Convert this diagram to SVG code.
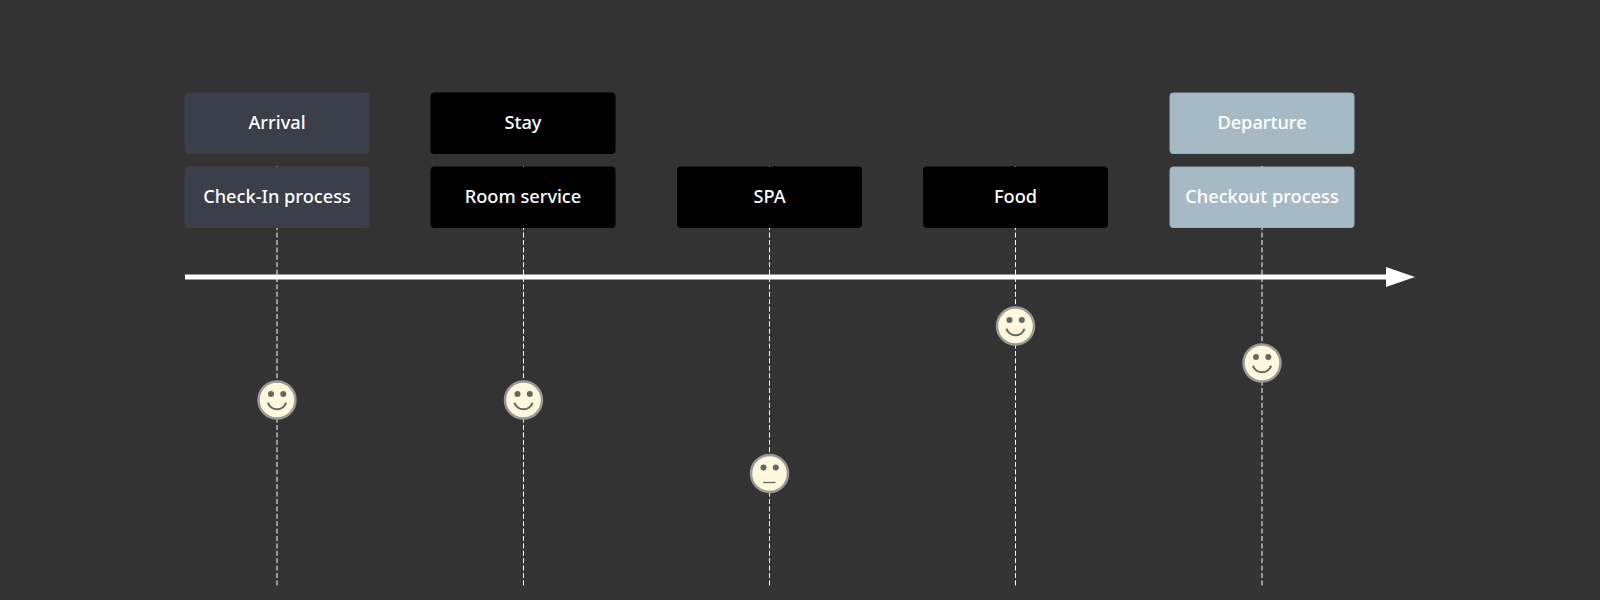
<svg xmlns="http://www.w3.org/2000/svg" width="1600" height="600" viewBox="0 0 1600 600">
<defs>
<marker id="arrow" markerUnits="userSpaceOnUse" markerWidth="30" markerHeight="20" refX="1" refY="10" orient="auto"><path d="M0 0L29 10L0 20Z" fill="#fff"/></marker>
<g id="smile"><circle r="18.5" class="face"/><circle cx="-6" cy="-6" r="3" class="eye"/><circle cx="6.3" cy="-6" r="3" class="eye"/><path d="M-9 2.7A9.4 9.2 0 0 0 9 2.7" class="mouth"/></g>
<g id="neutral"><circle r="18.5" class="face"/><circle cx="-6" cy="-6" r="3" class="eye"/><circle cx="6.3" cy="-6" r="3" class="eye"/><path d="M-6.3 9H6" class="neutral-mouth"/></g>
</defs>
<style>
text{font-family:"Noto Sans","Liberation Sans",sans-serif;font-size:18.2px;font-weight:500;fill:#fff;text-anchor:middle}
.box{stroke-width:1}
.a{fill:#3a3f4a;stroke:#3a3f4a}
.s{fill:#000;stroke:#000}
.d{fill:#a6bac5;stroke:#9cafba}
.v{stroke:#fff;stroke-width:1;stroke-dasharray:5 2.4;fill:none}
.face{fill:#fff8dc;stroke:#999;stroke-width:2.5}
.eye{fill:#666}
.mouth{fill:none;stroke:#666;stroke-width:2.2}
.neutral-mouth{fill:none;stroke:#666;stroke-width:1.3}
</style>
<rect width="1600" height="600" fill="#333"/>
<g id="connectors">
<line class="v" x1="277" y1="166" x2="277" y2="586"/>
<line class="v" x1="523.5" y1="166" x2="523.5" y2="586"/>
<line class="v" x1="769.5" y1="166" x2="769.5" y2="586"/>
<line class="v" x1="1015.5" y1="166" x2="1015.5" y2="586"/>
<line class="v" x1="1262" y1="166" x2="1262" y2="586"/>
<line x1="185" y1="277" x2="1387" y2="277" stroke="#fff" stroke-width="5" marker-end="url(#arrow)"/>
</g>
<g id="section-arrival"><rect class="box a" x="185" y="93" width="184" height="60.5" rx="3"/><text x="277" y="128.5">Arrival</text></g>
<g id="section-stay"><rect class="box s" x="431" y="93" width="184" height="60.5" rx="3"/><text x="523" y="128.5">Stay</text></g>
<g id="section-departure"><rect class="box d" x="1170" y="93" width="184" height="60.5" rx="3"/><text x="1262" y="128.5">Departure</text></g>
<g id="task-checkin"><rect class="box a" x="185" y="167" width="184" height="60.5" rx="3"/><text x="277" y="202.5">Check-In process</text></g>
<g id="task-room"><rect class="box s" x="431" y="167" width="184" height="60.5" rx="3"/><text x="523" y="202.5">Room service</text></g>
<g id="task-spa"><rect class="box s" x="677.5" y="167" width="184" height="60.5" rx="3"/><text x="769.5" y="202.5">SPA</text></g>
<g id="task-food"><rect class="box s" x="923.5" y="167" width="184" height="60.5" rx="3"/><text x="1015.5" y="202.5">Food</text></g>
<g id="task-checkout"><rect class="box d" x="1170" y="167" width="184" height="60.5" rx="3"/><text x="1262" y="202.5">Checkout process</text></g>
<g id="face-checkin"><use href="#smile" x="277" y="400"/></g>
<g id="face-room"><use href="#smile" x="523.5" y="400"/></g>
<g id="face-spa"><use href="#neutral" x="769.5" y="473.5"/></g>
<g id="face-food"><use href="#smile" x="1015.5" y="326"/></g>
<g id="face-checkout"><use href="#smile" x="1262" y="363"/></g>
</svg>
